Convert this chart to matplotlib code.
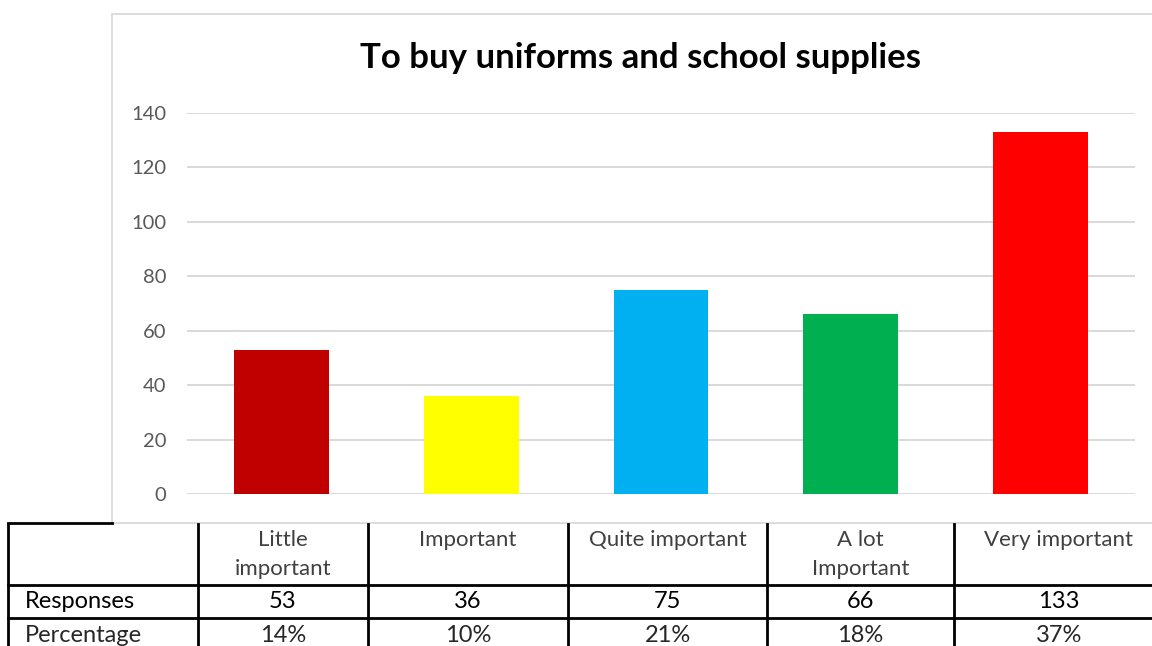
import matplotlib.pyplot as plt
from matplotlib.patches import Rectangle
from matplotlib.lines import Line2D

categories = ["Little\nimportant", "Important", "Quite important", "A lot\nImportant", "Very important"]
responses = [53, 36, 75, 66, 133]
percentages = [14, 10, 21, 18, 37]
colors = ["#C00000", "#FFFF00", "#00B0F0", "#00B050", "#FF0000"]
yticks = [0, 20, 40, 60, 80, 100, 120, 140]

plt.rcParams['font.family'] = ['Lato', 'DejaVu Sans']

W, H = 1152, 646
fig = plt.figure(figsize=(W / 100, H / 100), dpi=100)


def fx(x):
    return x / W


def fy(y):
    return 1 - y / H


# chart area frame
fig.patches.append(Rectangle((fx(112), fy(523)), fx(1200) - fx(112), fy(14) - fy(523),
                             transform=fig.transFigure, facecolor="white",
                             edgecolor="#d9d9d9", linewidth=1.3, zorder=-1))

ax = fig.add_axes([fx(187), fy(494), fx(1135) - fx(187), fy(113) - fy(494)])
ax.set_zorder(2)
ax.set_facecolor("none")
x = range(len(responses))
ax.bar(x, responses, width=0.5, color=colors, zorder=3)
ax.set_xlim(-0.5, 4.5)
ax.set_ylim(0, 140)
ax.set_yticks(yticks)
ax.set_yticklabels([str(t) for t in yticks], fontsize=14.5, color="#595959")
ax.tick_params(axis="y", length=0, pad=15)
ax.set_xticks([])
ax.grid(axis="y", color="#d9d9d9", linewidth=1.4, zorder=0)
for s in ax.spines.values():
    s.set_visible(False)

fig.text(fx(640), fy(58), "To buy uniforms and school supplies", ha="center", va="center",
         fontsize=25, fontweight="bold", color="black")

# data table under the chart
col_x = [8, 198, 368, 568, 767, 954, 1164]
row_y = [523, 585, 618, 660]
lw = 2.0
fig.lines.append(Line2D([fx(8), fx(112)], [fy(row_y[0]), fy(row_y[0])], transform=fig.transFigure,
                        color="black", linewidth=lw))
for y in row_y[1:]:
    fig.lines.append(Line2D([fx(col_x[0]), fx(col_x[-1])], [fy(y), fy(y)],
                            transform=fig.transFigure, color="black", linewidth=lw))
for xc in col_x:
    fig.lines.append(Line2D([fx(xc), fx(xc)], [fy(row_y[0] + 1), fy(row_y[-1])],
                            transform=fig.transFigure, color="black", linewidth=lw))

for i, cat in enumerate(categories):
    cx = (col_x[i + 1] + col_x[i + 2]) / 2
    fig.text(fx(cx), fy(530), cat, ha="center", va="top", fontsize=16,
             color="#404040", linespacing=1.55)
    fig.text(fx(cx), fy(602), str(responses[i]), ha="center", va="center",
             fontsize=17, color="black")
    fig.text(fx(cx), fy(636), f"{percentages[i]}%", ha="center", va="center",
             fontsize=17, color="#262626")

fig.text(fx(25), fy(602), "Responses", ha="left", va="center", fontsize=17, color="black")
fig.text(fx(25), fy(636), "Percentage", ha="left", va="center", fontsize=17, color="#262626")

fig.savefig("out.png", dpi=100)
